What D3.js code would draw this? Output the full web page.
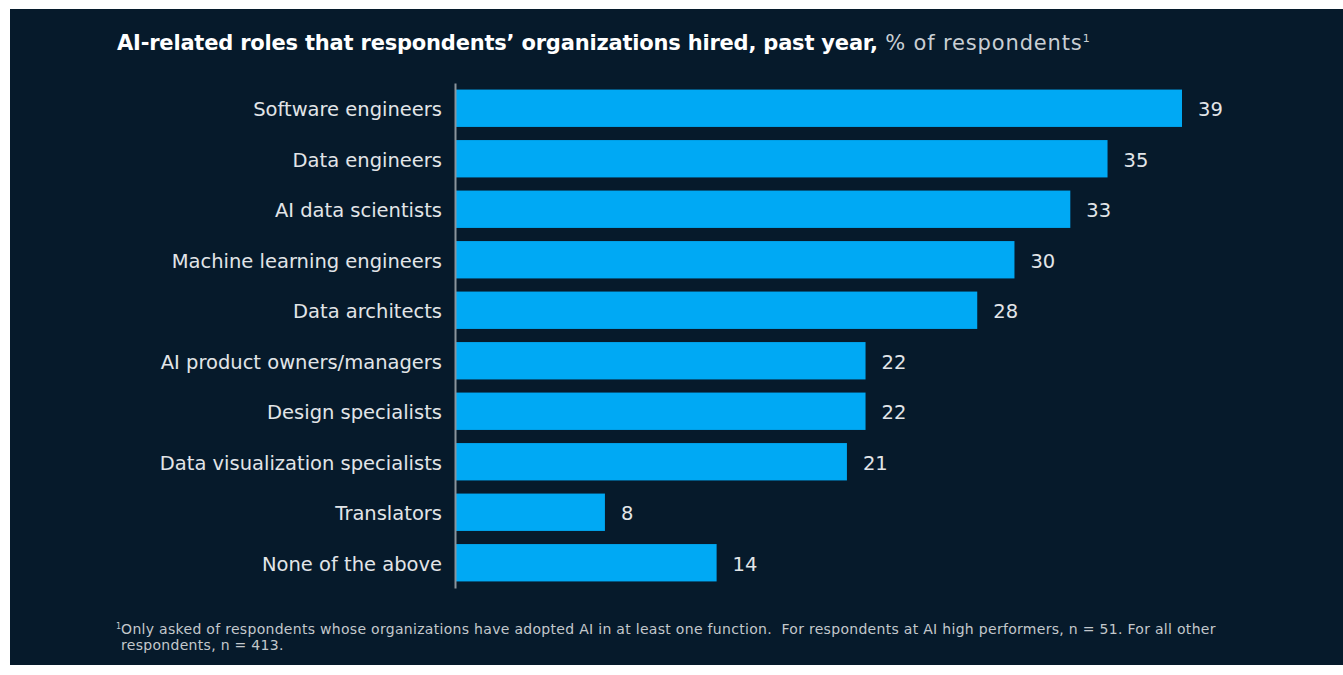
<!DOCTYPE html>
<html>
<head>
<meta charset="utf-8">
<script src="https://cdn.jsdelivr.net/npm/d3@7"></script>
<style>
  html, body { margin: 0; padding: 0; background: #ffffff; }
  svg { display: block; }
</style>
</head>
<body>
<svg id="chart" width="1343" height="675"></svg>
<script>
// Roles hired in the past year, % of respondents
const roles = [
  "Software engineers",
  "Data engineers",
  "AI data scientists",
  "Machine learning engineers",
  "Data architects",
  "AI product owners/managers",
  "Design specialists",
  "Data visualization specialists",
  "Translators",
  "None of the above"
];
const shares = [39, 35, 33, 30, 28, 22, 22, 21, 8, 14];

const titleBold = "AI-related roles that respondents\u2019 organizations hired, past year,";
const titleUnit = " % of respondents";
const footnoteLines = [
  "Only asked of respondents whose organizations have adopted AI in at least one function.  For respondents at AI high performers, n = 51. For all other",
  "respondents, n = 413."
];

const data = roles.map((r, i) => ({ role: r, value: shares[i] }));

const svg = d3.select("#chart");
const W = 1343;

// dark panel
svg.append("rect")
  .attr("x", 10).attr("y", 9)
  .attr("width", W - 10).attr("height", 656)
  .attr("fill", "#061a2b");

const font = "'DejaVu Sans', Verdana, sans-serif";

// title
const title = svg.append("text")
  .attr("x", 117).attr("y", 50)
  .attr("font-family", font)
  .attr("font-size", 21)
  .attr("fill", "#ffffff")
  .attr("xml:space", "preserve");
title.append("tspan").attr("font-weight", 700).attr("letter-spacing", -0.2).text(titleBold);
title.append("tspan").attr("fill", "#c9cfd4").attr("letter-spacing", 0.85).text(titleUnit);
title.append("tspan").attr("fill", "#c9cfd4").attr("font-size", 11).attr("dy", -8).text("1");

// scales
const x0 = 456;
const x = d3.scaleLinear().domain([0, 39]).range([x0, 1182]);
const y = d3.scaleBand().domain(roles).range([83, 588]).paddingInner(0.26).paddingOuter(0.13);

// bars
svg.append("g").selectAll("rect")
  .data(data)
  .join("rect")
  .attr("x", x(0))
  .attr("y", d => y(d.role))
  .attr("width", d => x(d.value) - x(0))
  .attr("height", y.bandwidth())
  .attr("fill", "#00a9f4");

// category axis
const yAxis = svg.append("g")
  .attr("transform", `translate(${x0 - 1},0)`)
  .call(d3.axisLeft(y).tickSize(0).tickPadding(13));
yAxis.select(".domain").attr("stroke", "#8a949c").attr("stroke-width", 2);
yAxis.selectAll("text")
  .attr("font-family", font)
  .attr("font-size", 19.5)
  .attr("fill", "#e2e5e8")
  .attr("dy", "0.4em");

// value labels
svg.append("g").selectAll("text")
  .data(data)
  .join("text")
  .attr("x", d => x(d.value) + 16)
  .attr("y", d => y(d.role) + y.bandwidth() / 2)
  .attr("dy", "0.4em")
  .attr("font-family", font)
  .attr("font-size", 19.5)
  .attr("fill", "#e2e5e8")
  .text(d => d.value);

// footnote
const foot = svg.append("g").attr("font-family", font).attr("font-size", 14).attr("fill", "#c3c8cc");
foot.append("text").attr("x", 116).attr("y", 634).attr("xml:space", "preserve")
  .call(t => {
    t.append("tspan").attr("font-size", 8).attr("dy", -5).text("1");
    t.append("tspan").attr("dy", 5).attr("letter-spacing", 0.3).text(footnoteLines[0]);
  });
foot.append("text").attr("x", 121).attr("y", 650).attr("letter-spacing", 0.3).text(footnoteLines[1]);
</script>
</body>
</html>
